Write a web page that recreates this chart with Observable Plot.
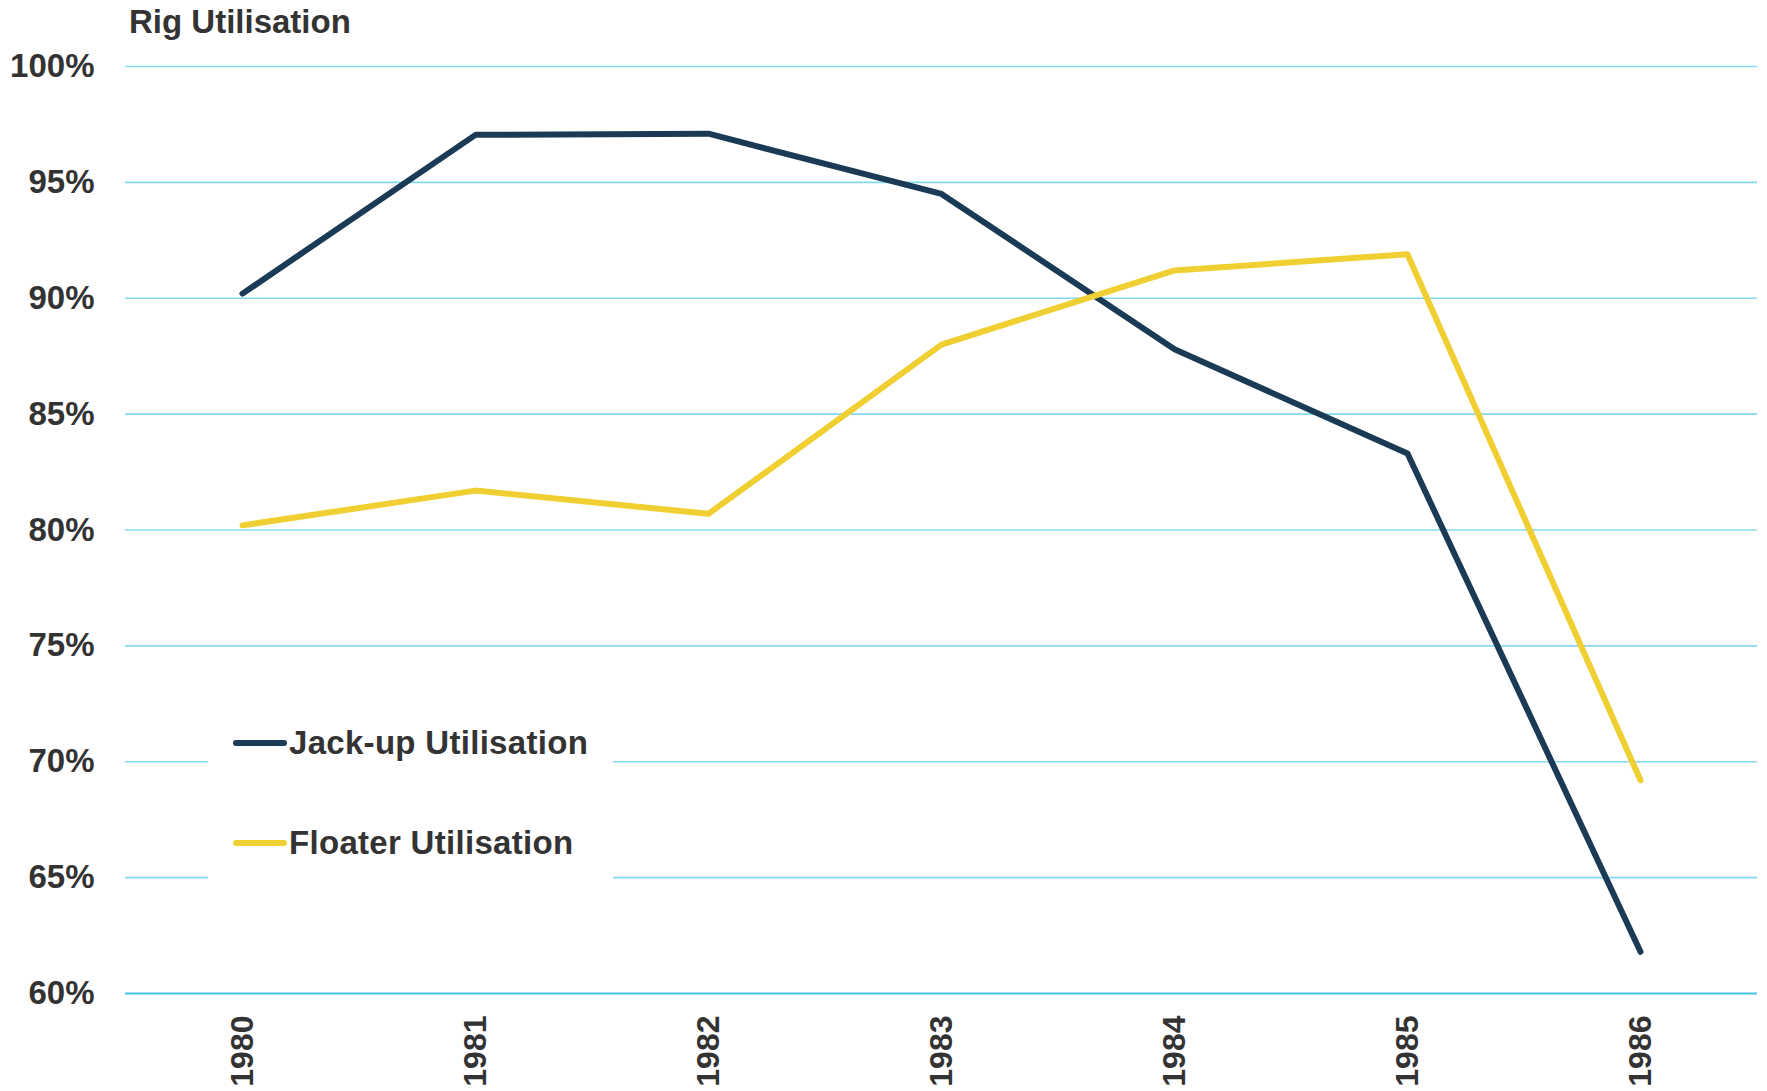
<!DOCTYPE html>
<html>
<head>
<meta charset="utf-8">
<script src="https://cdn.jsdelivr.net/npm/d3@7"></script>
<script src="https://cdn.jsdelivr.net/npm/@observablehq/plot@0.6"></script>
<style>
  html, body { margin: 0; padding: 0; background: #fff; }
  body { width: 1767px; height: 1091px; position: relative; overflow: hidden;
         font-family: "Liberation Sans", Arial, sans-serif; }
  #title { position: absolute; left: 129px; top: 5px; font-size: 33px; line-height: 33px;
           font-weight: bold; color: #333; }
  #legend { position: absolute; left: 208px; top: 700px; width: 405px; height: 195px; background: #fff; }
  .row { position: absolute; left: 25px; height: 40px; display: flex; align-items: center; }
  .sw { width: 54px; height: 6px; border-radius: 3px; margin-right: 2px; }
  .lab { font-size: 33px; font-weight: bold; color: #333; letter-spacing: 0.3px; }
  #chart { position: absolute; left: 0; top: 0; }
</style>
</head>
<body>
<div id="chart"></div>
<div id="title">Rig Utilisation</div>
<div id="legend"></div>
<script>
const years = ["1980", "1981", "1982", "1983", "1984", "1985", "1986"];
const jackup = [90.2, 97.05, 97.1, 94.5, 87.8, 83.3, 61.8];
const floater = [80.2, 81.7, 80.7, 88.0, 91.2, 91.9, 69.2];
const yTicks = [60, 65, 70, 75, 80, 85, 90, 95, 100];
const seriesNames = ["Jack-up Utilisation", "Floater Utilisation"];
const seriesColors = ["#1b3a56", "#f0cf33"];

const data = [];
years.forEach((y, i) => {
  data.push({year: y, value: jackup[i], series: seriesNames[0]});
  data.push({year: y, value: floater[i], series: seriesNames[1]});
});

const chart = Plot.plot({
  width: 1767,
  height: 1091,
  marginTop: 66,
  marginBottom: 98,
  marginLeft: 125,
  marginRight: 10,
  style: {fontFamily: "'Liberation Sans', Arial, sans-serif", background: "#fff"},
  x: {type: "point", domain: years, padding: 0.5, label: null},
  y: {domain: [60, 100], label: null},
  color: {domain: seriesNames, range: seriesColors},
  marks: [
    Plot.ruleY(yTicks.filter(d => d !== 60), {stroke: "#86d8f2", strokeWidth: 1.6}),
    Plot.ruleY([60], {stroke: "#45c1ea", strokeWidth: 2.2}),
    Plot.axisY(yTicks, {tickSize: 0, tickPadding: 31, tickFormat: d => d + "%",
      fontSize: 33, fontWeight: "bold", fill: "#333", label: null}),
    Plot.axisX({tickSize: 0, tickPadding: 22, tickRotate: -90,
      fontSize: 32, fontWeight: "bold", fill: "#333", label: null}),
    Plot.line(data, {x: "year", y: "value", z: "series", stroke: "series",
      strokeWidth: 6, strokeLinecap: "round", strokeLinejoin: "round"})
  ]
});
document.getElementById("chart").appendChild(chart);

const legend = document.getElementById("legend");
const tops = [23, 123];
seriesNames.forEach((name, i) => {
  const row = document.createElement("div");
  row.className = "row";
  row.style.top = tops[i] + "px";
  row.innerHTML = `<div class="sw" style="background:${seriesColors[i]}"></div><div class="lab">${name}</div>`;
  legend.appendChild(row);
});
</script>
</body>
</html>
